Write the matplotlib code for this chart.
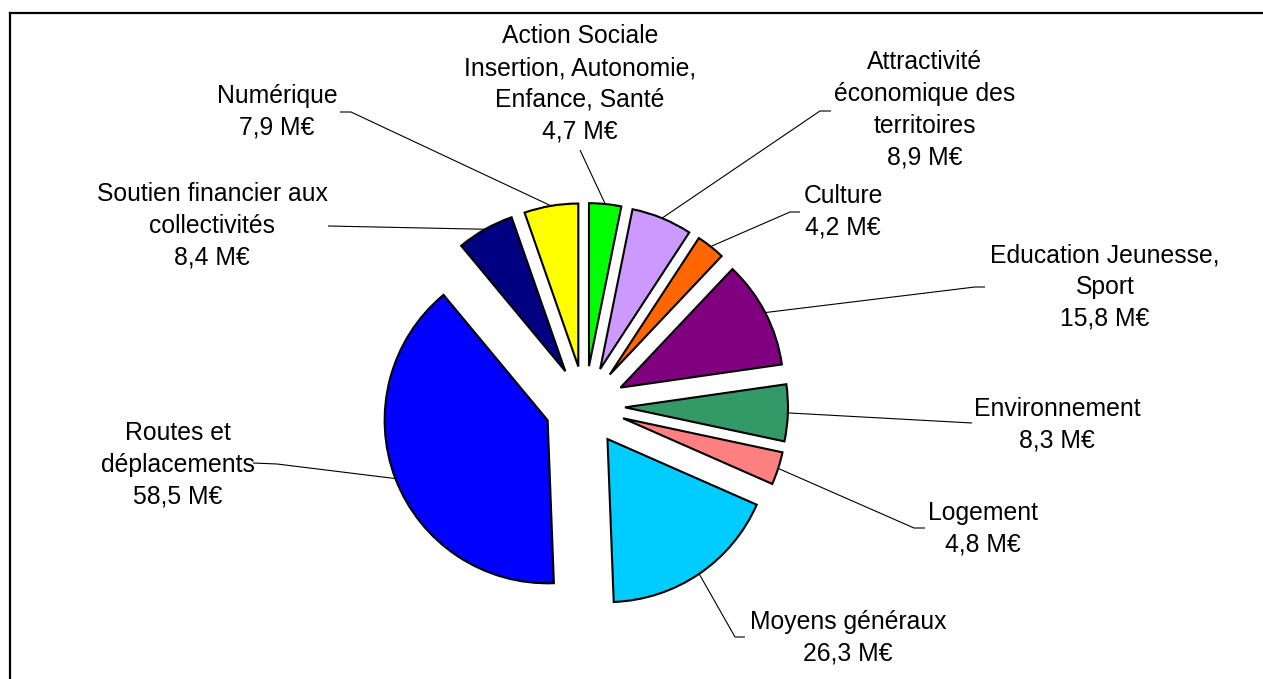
import numpy as np
import matplotlib
matplotlib.use("Agg")
import matplotlib.pyplot as plt

W, H = 1263, 679

categories = [
    "Action Sociale\nInsertion, Autonomie,\nEnfance, Santé",
    "Attractivité\néconomique des\nterritoires",
    "Culture",
    "Education Jeunesse,\nSport",
    "Environnement",
    "Logement",
    "Moyens généraux",
    "Routes et\ndéplacements",
    "Soutien financier aux\ncollectivités",
    "Numérique",
]
values = [4.7, 8.9, 4.2, 15.8, 8.3, 4.8, 26.3, 58.5, 8.4, 7.9]
value_labels = ["4,7 M€", "8,9 M€", "4,2 M€", "15,8 M€", "8,3 M€",
                "4,8 M€", "26,3 M€", "58,5 M€", "8,4 M€", "7,9 M€"]
colors = ["#00FF00", "#CC99FF", "#FF6600", "#800080", "#339966",
          "#FF8080", "#00CCFF", "#0000FF", "#000080", "#FFFF00"]

# label layout in pixel coordinates (x, y from top): text centre, line end at text, elbow
text_pos = [(580, 84), (925, 110), (843, 212), (1105, 287), (1057, 425),
            (983, 529), (848, 638), (178, 465), (212, 226), (277, 112)]
line_end = [(580, 150), (831, 111), (800, 212), (985, 287), (972, 423),
            (925, 528), (745, 637), (253, 463), (328, 226), (340, 112)]
elbow = [None, (820, 111), (790, 212), (975, 287), None,
         (914, 528), (735, 637), (277, 464), None, (351, 112)]

plt.rcParams['font.family'] = ['Liberation Sans', 'DejaVu Sans']

fig = plt.figure(figsize=(W / 100, H / 100), dpi=100)
ax = fig.add_axes([0, 0, 1, 1])

def py(y):
    return H - y

cx, cy = 585, py(406)
radius = 163
expl = 40

wedges, _ = ax.pie(values, colors=colors, startangle=90, counterclock=False,
                   radius=radius, center=(cx, cy), explode=[expl] * len(values),
                   wedgeprops=dict(edgecolor="black", linewidth=1.5))

for i, w in enumerate(wedges):
    mid = np.deg2rad((w.theta1 + w.theta2) / 2)
    ax_x = w.center[0] + w.r * np.cos(mid)
    ax_y = w.center[1] + w.r * np.sin(mid)
    pts = [(ax_x, ax_y)]
    if elbow[i] is not None:
        pts.append((elbow[i][0], py(elbow[i][1])))
    pts.append((line_end[i][0], py(line_end[i][1])))
    xs, ys = zip(*pts)
    ax.plot(xs, ys, color="black", linewidth=0.8, solid_capstyle="butt")
    tx, ty = text_pos[i]
    ax.text(tx, py(ty), categories[i] + "\n" + value_labels[i],
            ha="center", va="center", multialignment="center",
            fontsize=17.8, linespacing=1.42, color="black")

# outer frame (only top and left visible)
ax.plot([10, 10], [-20, py(13)], color="black", linewidth=1.6, solid_capstyle="projecting")
ax.plot([10, W + 20], [py(13), py(13)], color="black", linewidth=1.6, solid_capstyle="projecting")

ax.set_xlim(0, W)
ax.set_ylim(0, H)
ax.set_aspect("equal")
ax.axis("off")

fig.savefig("out.png", dpi=100, facecolor="white")
